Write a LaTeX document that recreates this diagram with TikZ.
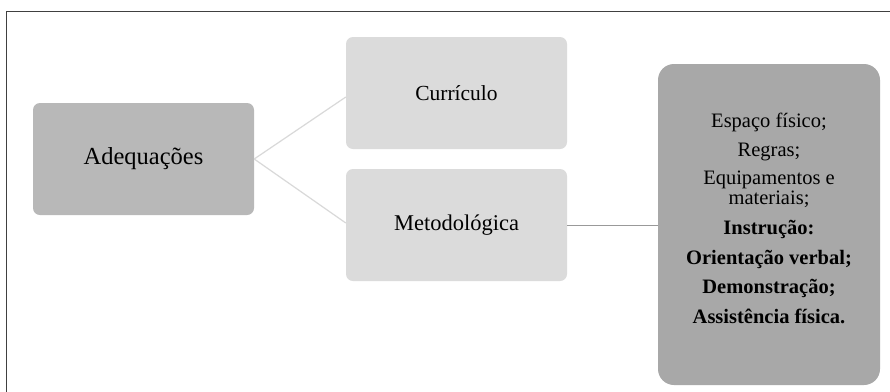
\documentclass[tikz,border=0pt]{standalone}
\usepackage{fontspec}
\setmainfont{Liberation Serif}
\begin{document}
\begin{tikzpicture}[x=1pt,y=-1pt,
  box/.style={rounded corners=7pt, inner sep=0pt, text=black},
  conn/.style={draw=black!15, line width=1.2pt},
  conndark/.style={draw=black!40, line width=1pt}]
\useasboundingbox (0,0) rectangle (890,391);
\fill[white] (0,0) rectangle (890,391);
\draw[black!75, line width=1.6pt] (6.5,400) -- (6.5,11.5) -- (900,11.5);
% boxes
\node[box, fill=black!28, minimum width=221pt, minimum height=112pt, font=\fontsize{24.5}{28}\selectfont] (ad) at (143.5,159) {Adequações};
\node[box, fill=black!14, minimum width=221pt, minimum height=112pt, font=\fontsize{21.5}{25}\selectfont] (cu) at (456.5,93) {Currículo};
\node[box, fill=black!14, minimum width=221pt, minimum height=112pt, font=\fontsize{22.5}{26}\selectfont] (me) at (456.5,225) {Metodológica};
\node[box, rounded corners=16pt, fill=black!34, minimum width=222pt, minimum height=321pt] (ri) at (769,224.5) {};
\node[align=center, inner sep=0pt, font=\fontsize{20.5}{19.5}\selectfont] (tx) at (769,218) {%
Espaço físico;\\[10pt]
Regras;\\[8.5pt]
Equipamentos e\\
materiais;\\[10.5pt]
\textbf{Instrução:}\\[10.5pt]
\textbf{Orientação verbal;}\\[9.5pt]
\textbf{Demonstração;}\\[10.5pt]
\textbf{Assistência física.}};
% connectors
\draw[conn] (ad.east) -- (cu.west |- 0,97);
\draw[conn] (ad.east) -- (me.west |- 0,223);
\draw[conndark] (me.east) -- (ri.west |- me.east);
\end{tikzpicture}
\end{document}
